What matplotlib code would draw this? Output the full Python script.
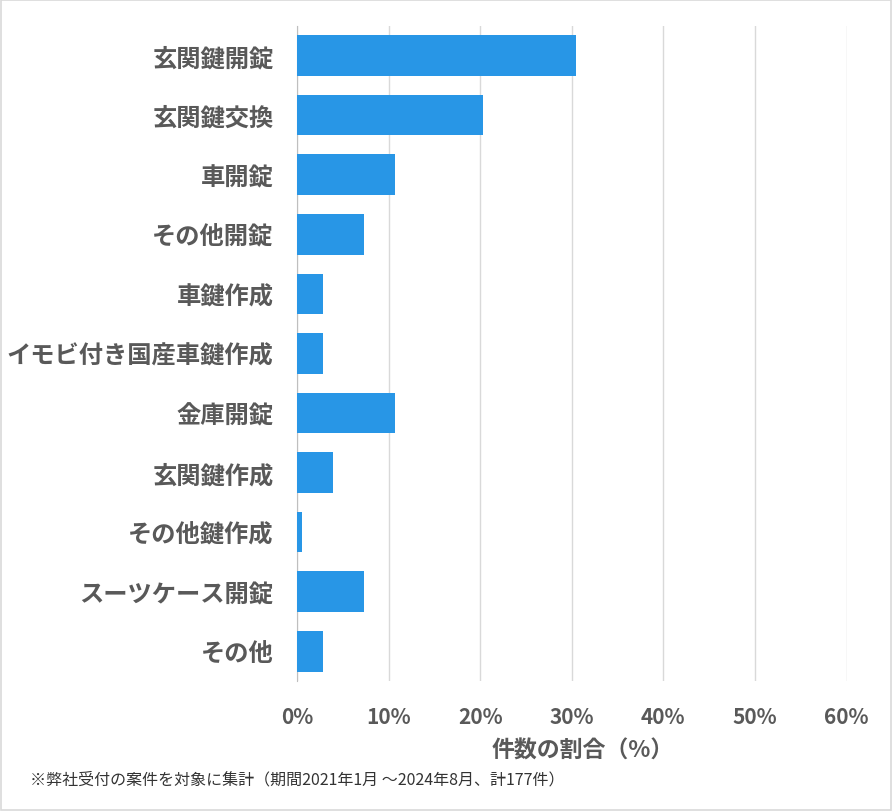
import matplotlib.pyplot as plt
from matplotlib.patches import Rectangle

plt.rcParams['font.family'] = ['Noto Sans CJK JP', 'DejaVu Sans']

# データ（件数 / 177件）
categories = ['玄関鍵開錠', '玄関鍵交換', '車開錠', 'その他開錠', '車鍵作成',
              'イモビ付き国産車鍵作成', '金庫開錠', '玄関鍵作成', 'その他鍵作成',
              'スーツケース開錠', 'その他']
counts = [54, 36, 19, 13, 5, 5, 19, 7, 1, 13, 5]
total = 177
shares = [c / total * 100 for c in counts]
xticks = [0, 10, 20, 30, 40, 50, 60]
xticklabels = ['0%', '10%', '20%', '30%', '40%', '50%', '60%']

txt = '#595959'
fig = plt.figure(figsize=(8.92, 8.12), dpi=100)
ax = fig.add_axes([0.333, 0.160, 0.616, 0.807])

y = list(range(len(categories)))
ax.barh(y, shares, height=0.68, color='#2896E6', zorder=3)
ax.set_ylim(len(categories) - 0.5, -0.5)
ax.set_xlim(0, 60)
ax.set_yticks(y)
ax.set_yticklabels(categories, fontsize=17.5, fontweight='bold', color=txt)
ax.set_xticks(xticks)
ax.set_xticklabels(xticklabels, fontsize=15, fontweight='bold', color=txt)
ax.tick_params(axis='both', length=0)
ax.tick_params(axis='y', pad=17)
ax.tick_params(axis='x', pad=18)
ax.grid(axis='x', color='#D9D9D9', linewidth=1, zorder=0)
for s in ['top', 'right', 'bottom']:
    ax.spines[s].set_visible(False)
ax.spines['left'].set_color('#BFBFBF')
ax.set_xlabel('件数の割合（%）', fontsize=16.5, fontweight='bold', color=txt,
              labelpad=8, x=0.52)

fig.text(0.034, 0.040, '※弊社受付の案件を対象に集計（期間2021年1月 ～2024年8月、計177件）',
         fontsize=11.5, color='#333333', va='center')

fig.patches.append(Rectangle((0.001, 0.001), 0.998, 0.998, transform=fig.transFigure,
                             fill=False, edgecolor='#D9D9D9', linewidth=1.2))

plt.savefig('out.png', dpi=100)
